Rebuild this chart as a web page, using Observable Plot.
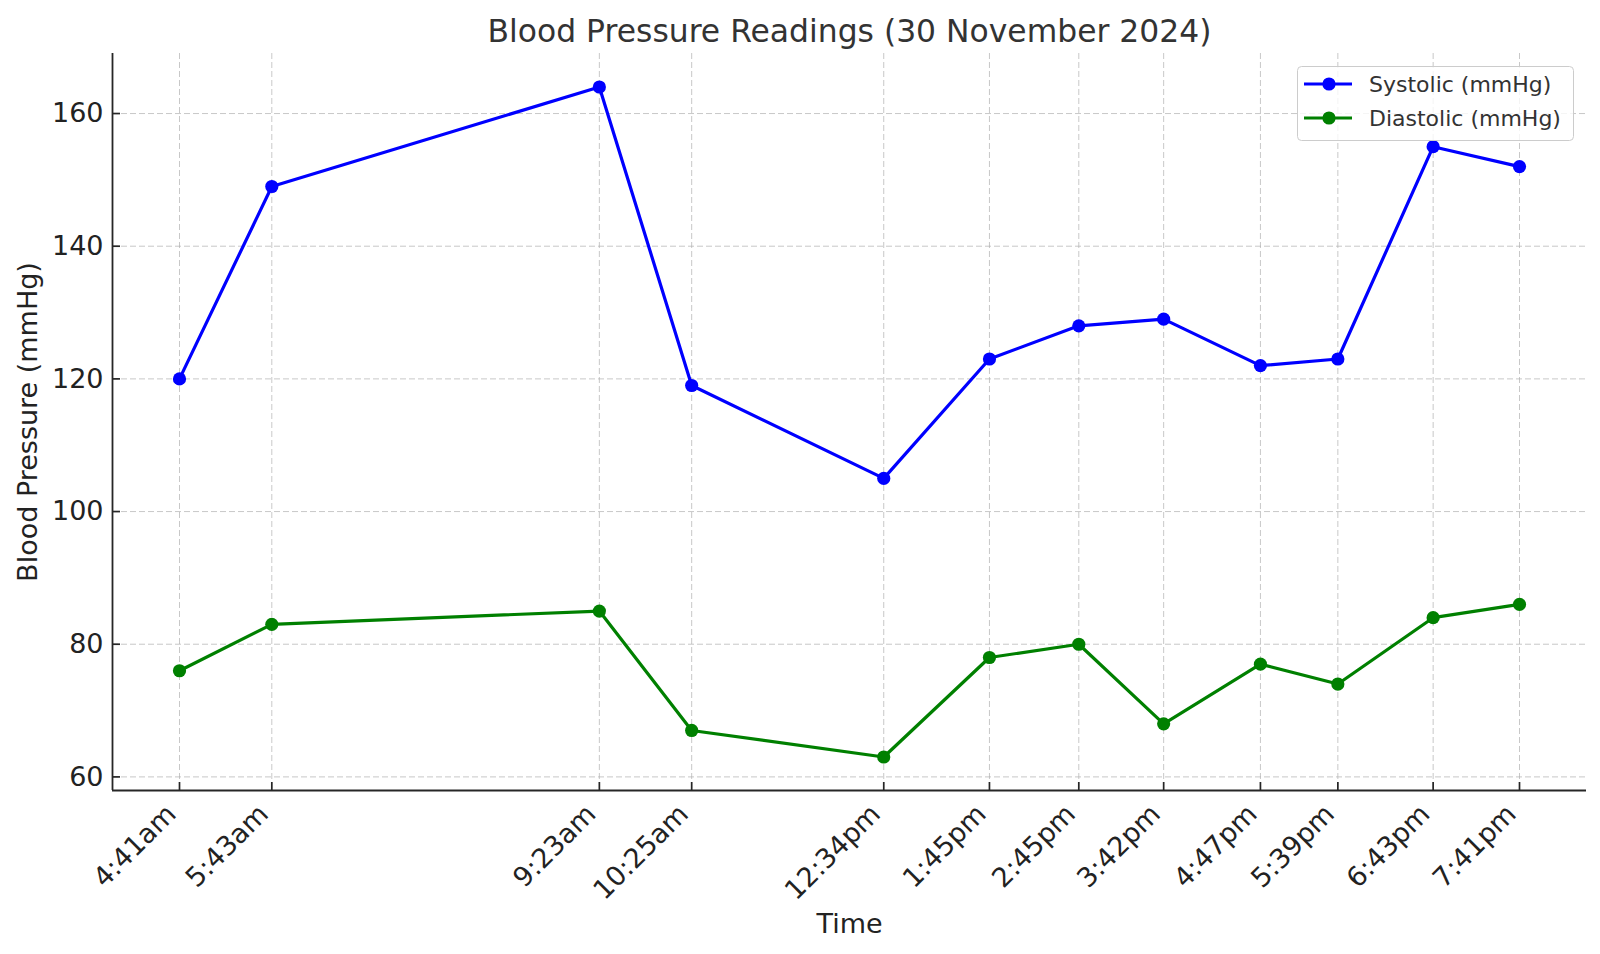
<!DOCTYPE html>
<html><head><meta charset="utf-8">
<script src="https://cdn.jsdelivr.net/npm/d3@7"></script>
<script src="https://cdn.jsdelivr.net/npm/@observablehq/plot@0.6"></script>
<style>
body{margin:0;background:#fff;font-family:"DejaVu Sans",sans-serif;}
#wrap{position:relative;width:1600px;height:954px;}
#legend{position:absolute;left:1297px;top:66px;}
</style></head><body><div id="wrap"></div>
<script>
const chartTitle = "Blood Pressure Readings (30 November 2024)";
const xLabel = "Time";
const yLabel = "Blood Pressure (mmHg)";
const timeLabels = ["4:41am","5:43am","9:23am","10:25am","12:34pm","1:45pm","2:45pm","3:42pm","4:47pm","5:39pm","6:43pm","7:41pm"];
const systolic = [120,149,164,119,105,123,128,129,122,123,155,152];
const diastolic = [76,83,85,67,63,78,80,68,77,74,84,86];
const yTicks = [60,80,100,120,140,160];
const seriesNames = ["Systolic (mmHg)","Diastolic (mmHg)"];
const seriesColors = ["#0000ff","#008000"];

function parseLabel(s){
  const m = s.match(/(\d+):(\d+)(am|pm)/);
  let h = +m[1] % 12; if (m[3] === "pm") h += 12;
  return new Date(2024, 10, 30, h, +m[2]);
}
const times = timeLabels.map(parseLabel);
const rows = [];
times.forEach((t,i)=>{
  rows.push({time:t, value:systolic[i], series:seriesNames[0]});
  rows.push({time:t, value:diastolic[i], series:seriesNames[1]});
});
// matplotlib-like 5% margins
const tExt = d3.extent(times), tSpan = tExt[1]-tExt[0];
const xDomain = [new Date(+tExt[0]-0.05*tSpan), new Date(+tExt[1]+0.05*tSpan)];
const vExt = d3.extent(rows, d=>d.value), vSpan = vExt[1]-vExt[0];
const yDomain = [vExt[0]-0.05*vSpan, vExt[1]+0.05*vSpan];

const W=1600, H=954, mT=53, mR=14, mB=164, mL=112;
const plotW = W-mL-mR, plotH = H-mT-mB;
const axisColor = "#262626";
const font = "DejaVu Sans";

const chart = Plot.plot({
  width: W, height: H,
  marginTop: mT, marginRight: mR, marginBottom: mB, marginLeft: mL,
  style: {fontFamily: font, background: "#fff"},
  x: {type: "time", domain: xDomain, axis: null},
  y: {domain: yDomain, axis: null},
  color: {domain: seriesNames, range: seriesColors},
  marks: [
    Plot.gridX(times, {stroke:"#b0b0b0", strokeOpacity:0.7, strokeDasharray:"6,3", strokeWidth:1}),
    Plot.gridY(yTicks, {stroke:"#b0b0b0", strokeOpacity:0.7, strokeDasharray:"6,3", strokeWidth:1}),
    Plot.ruleX([xDomain[0]], {stroke: axisColor, strokeWidth: 1.8}),
    Plot.ruleY([yDomain[0]], {stroke: axisColor, strokeWidth: 1.8}),
    Plot.tickX(times, {x: d=>d, insetTop: plotH-8, stroke: axisColor, strokeWidth: 1.7}),
    Plot.tickY(yTicks, {y: d=>d, insetRight: plotW-8, stroke: axisColor, strokeWidth: 1.7}),
    Plot.line(rows, {x:"time", y:"value", z:"series", stroke:"series", strokeWidth:3.2}),
    Plot.dot(rows, {x:"time", y:"value", fill:"series", r:6.6}),
    Plot.text(yTicks, {y:d=>d, frameAnchor:"left", text:d=>String(d), textAnchor:"end", lineAnchor:"middle", dx:-9, fontSize:27, fill:"#222", fontFamily:font}),
    Plot.text(times, {x:d=>d, frameAnchor:"bottom", text:(d,i)=>timeLabels[i], rotate:-45, textAnchor:"end", lineAnchor:"middle", dx:-8, dy:19, fontSize:27, fill:"#222", fontFamily:font}),
    Plot.text([xLabel], {frameAnchor:"bottom", dy:134, fontSize:27, fill:"#222", fontFamily:font, textAnchor:"middle", lineAnchor:"middle"}),
    Plot.text([yLabel], {frameAnchor:"left", dx:-84, rotate:-90, fontSize:27, fill:"#222", fontFamily:font, textAnchor:"middle", lineAnchor:"middle"}),
    Plot.text([chartTitle], {frameAnchor:"top", dy:-22, fontSize:31.4, fill:"#333", fontFamily:font, textAnchor:"middle", lineAnchor:"middle"})
  ]
});
const wrap = document.getElementById("wrap");
wrap.appendChild(chart);

// legend
const lg = d3.select(wrap).append("svg").attr("id","legend").attr("width",278).attr("height",76);
lg.append("rect").attr("x",0.5).attr("y",0.5).attr("width",276).attr("height",74).attr("rx",4)
  .attr("fill","rgba(255,255,255,0.8)").attr("stroke","#cccccc").attr("stroke-width",1);
seriesNames.forEach((name,i)=>{
  const cy = 18 + i*34;
  const g = lg.append("g");
  g.append("line").attr("x1",7).attr("x2",55).attr("y1",cy).attr("y2",cy).attr("stroke",seriesColors[i]).attr("stroke-width",3.2);
  g.append("circle").attr("cx",32).attr("cy",cy).attr("r",6.6).attr("fill",seriesColors[i]);
  g.append("text").attr("x",72).attr("y",cy).attr("dy","0.36em").attr("font-family",font).attr("font-size",22).attr("fill","#333").text(name);
});
</script></body></html>
